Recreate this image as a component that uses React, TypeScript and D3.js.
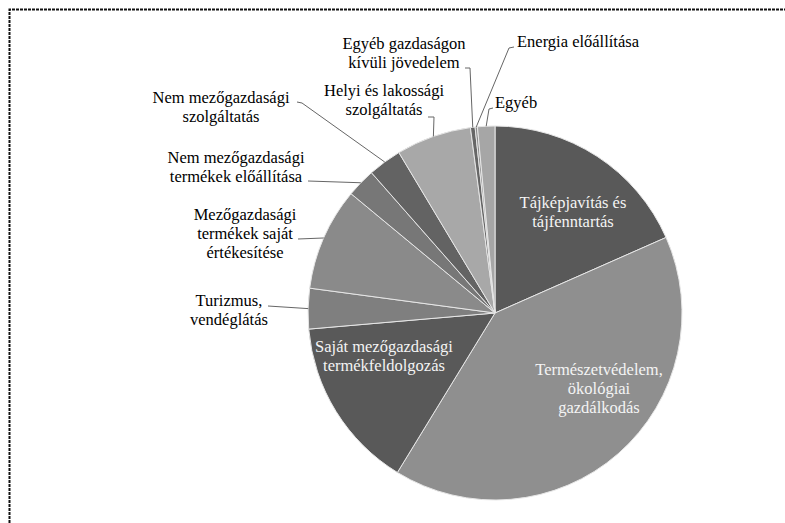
import { useEffect, useRef } from 'react'
import * as d3 from 'd3'

// slice shares, clockwise from 12 o'clock
const categories = [
  'Tájképjavítás és tájfenntartás',
  'Természetvédelem, ökológiai gazdálkodás',
  'Saját mezőgazdasági termékfeldolgozás',
  'Turizmus, vendéglátás',
  'Mezőgazdasági termékek saját értékesítése',
  'Nem mezőgazdasági termékek előállítása',
  'Nem mezőgazdasági szolgáltatás',
  'Helyi és lakossági szolgáltatás',
  'Egyéb gazdaságon kívüli jövedelem',
  'Energia előállítása',
  'Egyéb',
]
const shares = [18.4, 40.4, 14.9, 3.5, 8.9, 2.5, 2.9, 6.5, 0.4, 0.2, 1.5]
const labelLines = [
  ['Tájképjavítás és', 'tájfenntartás'],
  ['Természetvédelem,', 'ökológiai', 'gazdálkodás'],
  ['Saját mezőgazdasági', 'termékfeldolgozás'],
  ['Turizmus,', 'vendéglátás'],
  ['Mezőgazdasági', 'termékek saját', 'értékesítése'],
  ['Nem mezőgazdasági', 'termékek előállítása'],
  ['Nem mezőgazdasági', 'szolgáltatás'],
  ['Helyi és lakossági', 'szolgáltatás'],
  ['Egyéb gazdaságon', 'kívüli jövedelem'],
  ['Energia előállítása'],
  ['Egyéb'],
]

const fills = [
  '#595959', '#8f8f8f', '#595959', '#7f7f7f', '#8a8a8a',
  '#777777', '#636363', '#a8a8a8', '#666666', '#8c8c8c', '#a6a6a6',
]

// label layout: x, first baseline, anchor, inside the slice or not, leader start/elbow points
const layout: { x: number; y: number; anchor: string; inside: boolean; leader?: [number, number][] }[] = [
  { x: 573, y: 208, anchor: 'middle', inside: true },
  { x: 599, y: 375, anchor: 'middle', inside: true },
  { x: 384, y: 352, anchor: 'middle', inside: true },
  { x: 229, y: 306, anchor: 'middle', inside: false, leader: [[268, 306]] },
  { x: 245, y: 220, anchor: 'middle', inside: false, leader: [[298, 239]] },
  { x: 236, y: 163, anchor: 'middle', inside: false, leader: [[308, 181]] },
  { x: 221, y: 103, anchor: 'middle', inside: false, leader: [[297, 102], [302, 103]] },
  { x: 384, y: 96, anchor: 'middle', inside: false, leader: [[428, 117], [434, 117]] },
  { x: 404, y: 49, anchor: 'middle', inside: false, leader: [[465, 68], [470, 68]] },
  { x: 517, y: 47, anchor: 'start', inside: false, leader: [[514, 47], [509, 48]] },
  { x: 495, y: 108, anchor: 'start', inside: false, leader: [[493, 108], [489, 109]] },
]

const FONT = "'Liberation Serif', 'DejaVu Serif', serif"

export default function App() {
  const svgRef = useRef<SVGSVGElement>(null)

  useEffect(() => {
    if (!svgRef.current) return
    const width = 785
    const height = 523
    const cx = 495
    const cy = 313
    const r = 187
    const lineGap = 19

    const svg = d3.select(svgRef.current)
    svg.selectAll('*').remove()
    svg.attr('viewBox', `0 0 ${width} ${height}`)

    // dotted frame (only top and left edges are visible)
    svg
      .append('path')
      .attr('d', `M9.5,${height} V9.5 H${width}`)
      .attr('fill', 'none')
      .attr('stroke', '#111')
      .attr('stroke-width', 2)
      .attr('stroke-dasharray', '3 1')

    const data = categories.map((name, i) => ({ name, value: shares[i], i }))
    const pie = d3
      .pie<{ name: string; value: number; i: number }>()
      .value((d) => d.value)
      .sort(null)
    const arcs = pie(data)
    const arc = d3.arc<d3.PieArcDatum<any>>().innerRadius(0).outerRadius(r)

    const g = svg.append('g').attr('transform', `translate(${cx},${cy})`)
    g.selectAll('path')
      .data(arcs)
      .join('path')
      .attr('d', arc)
      .attr('fill', (d) => fills[d.data.i])
      .attr('stroke', '#e6e6e6')
      .attr('stroke-width', 1)

    // leader lines end on the arc at each slice's mid-angle
    arcs.forEach((a, i) => {
      const lay = layout[i]
      if (lay.inside || !lay.leader) return
      const mid = (a.startAngle + a.endAngle) / 2
      const px = cx + r * Math.sin(mid)
      const py = cy - r * Math.cos(mid)
      const pts: [number, number][] = [...lay.leader, [px, py]]
      svg
        .append('path')
        .attr('d', d3.line()(pts))
        .attr('fill', 'none')
        .attr('stroke', '#666')
        .attr('stroke-width', 1)
    })

    labelLines.forEach((lines, i) => {
      const lay = layout[i]
      const t = svg
        .append('text')
        .attr('text-anchor', lay.anchor)
        .style('font-family', FONT)
        .style('font-size', '16.5px')
        .attr('fill', lay.inside ? '#f4f4f4' : '#000000')
      lines.forEach((line, k) => {
        t.append('tspan')
          .attr('x', lay.x)
          .attr('y', lay.y + k * lineGap)
          .text(line)
      })
    })
  }, [])

  return (
    <svg
      ref={svgRef}
      width={785}
      height={523}
      style={{ position: 'absolute', left: 0, top: 0, background: '#fff' }}
    />
  )
}
